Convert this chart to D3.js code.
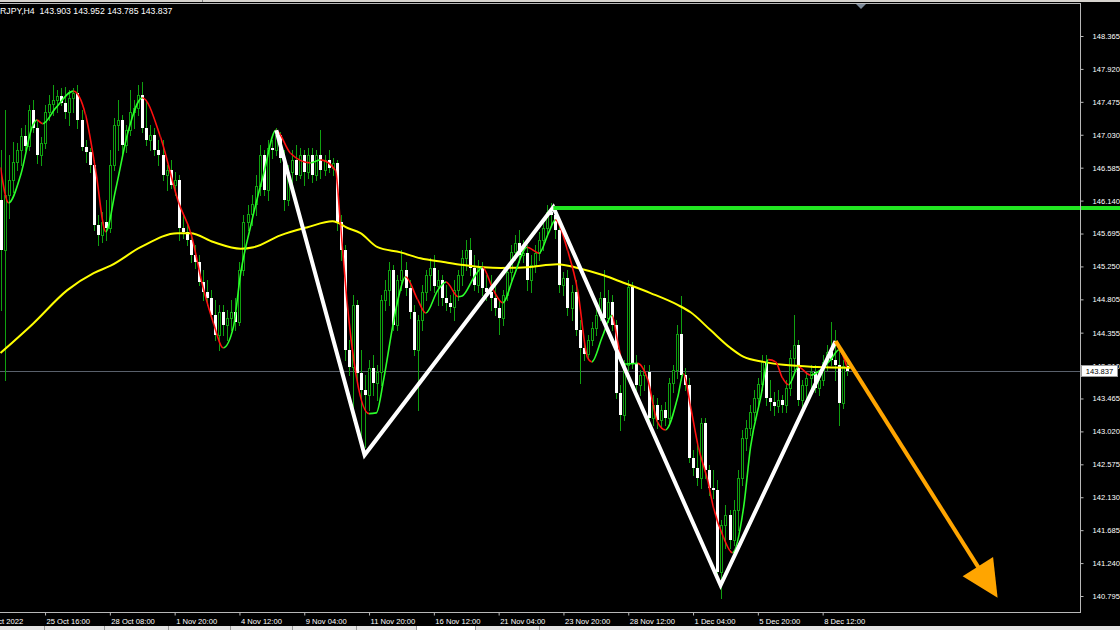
<!DOCTYPE html>
<html><head><meta charset="utf-8">
<script src="https://cdn.jsdelivr.net/npm/d3@7"></script>
<style>html,body{margin:0;padding:0;background:#000;overflow:hidden}svg{display:block}</style>
</head><body><svg id="c" width="1120" height="630"></svg>
<script>
// ---------- data ----------
const title = "EURJPY,H4  143.903 143.952 143.785 143.837";
const opens = [146.15,145.47,146.22,146.42,146.66,146.82,147.01,146.88,147.36,147.12,
146.76,146.92,147.34,147.45,147.50,147.55,147.46,147.34,147.53,147.59,
147.23,146.86,146.80,146.62,145.81,145.67,145.85,145.77,146.62,147.16,
147.23,146.89,147.09,147.34,147.39,147.57,147.12,146.96,147.03,146.82,
146.76,146.49,146.55,146.35,146.42,145.77,145.72,145.61,145.41,145.31,
145.04,144.91,144.82,144.59,144.32,144.63,144.46,144.55,144.63,144.50,
145.20,145.85,145.96,146.09,146.34,146.76,146.28,146.85,146.82,147.03,
146.72,146.15,146.53,146.69,146.49,146.76,146.53,146.76,146.49,146.76,
146.55,146.69,146.58,146.65,145.85,145.47,144.12,143.89,144.73,143.81,
143.58,143.51,143.88,143.68,143.82,144.80,144.93,145.20,144.46,145.07,
145.20,144.96,144.63,144.12,144.53,144.91,145.13,145.23,144.99,145.07,
144.82,144.76,144.70,144.93,145.13,145.36,145.47,145.23,145.00,145.23,
144.96,144.91,144.82,144.69,144.55,144.86,145.18,145.45,145.57,145.41,
145.43,145.07,145.27,145.43,145.61,145.77,145.99,145.94,145.74,145.00,
145.09,144.69,144.91,144.39,144.15,144.07,144.26,144.42,144.59,144.82,
144.55,144.77,144.46,143.54,143.24,143.92,144.97,143.94,143.65,143.78,
143.82,143.20,143.38,143.18,143.31,143.20,143.68,143.85,144.34,143.78,
143.65,142.66,142.53,142.39,143.14,142.50,142.26,142.23,141.12,141.76,
141.89,141.55,141.96,142.39,142.93,143.07,143.28,143.47,143.66,143.96,
143.47,143.42,143.36,143.45,143.38,143.61,144.01,144.19,143.45,143.65,
143.74,143.82,143.61,143.72,143.96,144.09,143.99,143.92,143.41,143.903];
const highs = [146.82,147.36,146.76,146.93,146.92,147.12,147.16,147.43,147.50,147.23,
147.00,147.43,147.57,147.70,147.63,147.66,147.68,147.63,147.66,147.70,
147.36,146.96,146.85,146.69,145.94,145.99,146.15,146.82,147.26,147.50,
147.30,147.16,147.63,147.50,147.70,147.74,147.50,147.16,147.12,146.96,
146.96,146.62,146.69,146.53,146.49,145.94,145.81,145.72,145.54,145.41,
145.20,145.07,144.93,144.80,144.73,144.73,144.66,144.80,144.82,145.31,
145.94,146.08,146.22,146.49,146.89,146.82,146.96,146.96,147.12,147.07,
146.82,146.62,146.82,146.89,146.85,146.82,146.85,146.85,146.82,147.09,
146.76,146.82,146.72,146.69,145.94,145.54,144.26,144.86,144.80,144.12,
143.78,143.99,144.05,143.92,144.86,145.07,145.31,145.27,145.13,145.47,
145.31,145.07,144.73,144.59,145.00,145.20,145.36,145.41,145.20,145.13,
145.00,144.86,145.07,145.20,145.47,145.61,145.63,145.41,145.34,145.31,
145.13,145.13,145.00,144.80,144.93,145.23,145.54,145.67,145.74,145.61,
145.54,145.41,145.54,145.72,145.85,146.08,146.11,146.01,145.81,145.18,
145.20,145.00,145.07,144.53,144.26,144.32,144.50,144.73,144.91,145.20,
144.93,144.86,144.53,143.65,143.99,145.07,145.04,144.05,143.85,143.92,
143.92,143.51,143.47,143.38,143.42,143.74,143.92,144.46,144.85,143.88,
143.74,142.77,142.84,143.20,143.20,142.57,142.50,142.36,141.82,142.03,
141.96,142.09,142.50,143.04,143.18,143.38,143.58,143.74,144.05,144.05,
143.72,143.55,143.58,143.51,143.72,144.12,144.59,144.26,143.72,143.82,
143.92,143.92,143.78,144.05,144.19,144.50,144.39,144.12,143.99,143.952];
const lows = [144.66,143.72,145.91,146.26,146.55,146.62,146.82,146.82,147.07,146.65,
146.62,146.85,147.23,147.30,147.34,147.43,147.26,147.16,147.34,147.12,
146.82,146.66,146.53,145.74,145.54,145.58,145.61,145.72,146.55,146.82,
146.76,146.80,147.03,147.12,147.30,147.07,146.89,146.82,146.76,146.62,
146.42,146.28,146.31,146.22,145.61,145.63,145.54,145.31,145.23,145.00,
144.80,144.73,144.55,144.26,144.12,144.32,144.26,144.39,144.39,144.46,
145.13,145.74,145.81,145.94,146.22,146.22,146.15,146.72,146.76,146.66,
146.01,146.08,146.35,146.42,146.45,146.35,146.45,146.39,146.42,146.45,
146.49,146.53,146.49,145.74,145.34,143.99,143.78,143.18,143.72,142.86,
142.81,143.31,143.51,143.45,143.65,144.66,144.73,144.39,144.39,144.93,
144.86,144.55,144.05,143.31,144.39,144.80,144.93,144.91,144.73,144.73,
144.66,144.63,144.53,144.80,145.00,145.20,145.13,144.93,144.91,144.86,
144.80,144.66,144.59,144.34,144.46,144.80,145.07,145.34,145.31,145.31,
144.93,144.91,145.18,145.34,145.47,145.67,145.81,145.63,144.91,144.86,
144.59,144.53,144.32,143.68,143.99,144.01,144.19,144.32,144.53,144.46,
144.50,144.39,143.47,143.04,143.18,143.85,143.88,143.58,143.51,143.58,
143.15,143.11,143.07,143.07,143.11,143.15,143.55,143.74,143.72,143.58,
142.61,142.43,142.30,142.26,142.39,142.16,142.12,141.04,140.77,141.45,
141.45,141.49,141.69,142.30,142.77,142.97,143.18,143.38,143.58,143.38,
143.31,143.24,143.28,143.28,143.28,143.51,143.82,143.38,143.28,143.45,
143.51,143.55,143.51,143.65,143.85,143.92,143.72,143.11,143.34,143.785];
const closes = [145.47,146.22,146.42,146.66,146.82,147.01,146.88,147.36,147.12,146.76,
146.92,147.34,147.45,147.50,147.55,147.46,147.34,147.53,147.59,147.23,
146.86,146.80,146.62,145.81,145.67,145.85,145.77,146.62,147.16,147.23,
146.89,147.09,147.34,147.39,147.57,147.12,146.96,147.03,146.82,146.76,
146.49,146.55,146.35,146.42,145.77,145.72,145.61,145.41,145.31,145.04,
144.91,144.82,144.59,144.32,144.63,144.46,144.55,144.63,144.50,145.20,
145.85,145.96,146.09,146.34,146.76,146.28,146.85,146.82,147.03,146.72,
146.15,146.53,146.69,146.49,146.76,146.53,146.76,146.49,146.76,146.55,
146.69,146.58,146.65,145.85,145.47,144.12,143.89,144.73,143.81,143.58,
143.51,143.88,143.68,143.82,144.80,144.93,145.20,144.46,145.07,145.20,
144.96,144.63,144.12,144.53,144.91,145.13,145.23,144.99,145.07,144.82,
144.76,144.70,144.93,145.13,145.36,145.47,145.23,145.00,145.23,144.96,
144.91,144.82,144.69,144.55,144.86,145.18,145.45,145.57,145.41,145.43,
145.07,145.27,145.43,145.61,145.77,145.99,145.94,145.74,145.00,145.09,
144.69,144.91,144.39,144.15,144.07,144.26,144.42,144.59,144.82,144.55,
144.77,144.46,143.54,143.24,143.92,144.97,143.94,143.65,143.78,143.82,
143.20,143.38,143.18,143.31,143.20,143.68,143.85,144.34,143.78,143.65,
142.66,142.53,142.39,143.14,142.50,142.26,142.23,141.12,141.76,141.89,
141.55,141.96,142.39,142.93,143.07,143.28,143.47,143.66,143.96,143.47,
143.42,143.36,143.45,143.38,143.61,144.01,144.19,143.45,143.65,143.74,
143.82,143.61,143.72,143.96,144.09,143.99,143.92,143.41,143.90,143.837];

// fast (red/green) moving average, read at key bars
const fastIdx = [0,2,5,8,9,10.4,13.6,18,21,23.5,26,28.4,31.6,35,39.5,44,47,50,52.6,55,
57.5,59.3,61.7,65,68,71.6,76.5,79,82.7,84,85.7,88,91,92.8,94.6,96.8,98.3,100,103,105,
108,110,113,114,117,119,121.7,124,126.7,130,133,135.3,137,140,142.5,145,146,148.6,151,152.3,
153.8,157.3,159.8,162.2,164.2,167.2,168.6,170.4,172.3,174.6,176,178.5,180.7,183.5,185.2,187.7,189.6,191.4,193,194.6,
197,200,202.5,205,207,209];
const fastVal = [146.59,146.11,146.49,147.16,147.23,147.18,147.39,147.62,147.30,146.55,145.72,146.28,147.09,147.53,147.00,146.11,145.70,144.97,144.48,144.15,
144.43,145.16,145.78,146.51,147.09,146.78,146.65,146.69,146.55,145.78,144.70,143.72,143.26,143.27,143.72,144.43,144.84,145.11,144.80,144.62,
144.93,145.04,144.84,144.85,145.11,145.24,144.93,144.76,145.11,145.51,145.43,145.70,145.88,145.47,144.93,144.01,143.96,144.30,144.59,144.26,
143.93,143.94,143.72,143.15,143.04,143.48,143.80,143.35,142.81,142.36,142.00,141.59,141.38,142.00,142.81,143.48,143.99,143.96,143.75,143.65,
143.89,143.78,143.85,143.99,144.12,143.89];
// slow (yellow) moving average
const slowIdx = [0,8.1,16.5,23,27.2,34.6,43.7,46.9,52.6,59.3,62.5,69.1,75.8,82,85.7,88.9,93.1,98.8,103.7,109.4,
114.3,119.3,123.5,130.1,137.5,142.5,148.9,153.8,160.5,167.2,170.4,175.3,180.2,183.4,188.4,193.3,201.7,209.9];
const slowVal = [144.08,144.48,144.93,145.16,145.26,145.51,145.70,145.70,145.58,145.49,145.51,145.67,145.78,145.86,145.77,145.70,145.51,145.44,145.36,145.31,
145.27,145.24,145.23,145.24,145.28,145.23,145.13,145.03,144.89,144.73,144.63,144.39,144.15,144.03,143.96,143.92,143.89,143.88];

const priceTicks = [148.365,147.920,147.475,147.030,146.585,146.140,145.695,145.250,144.805,144.355,143.910,143.465,143.020,142.575,142.130,141.685,141.240,140.795];
const timeIdx = [-5,11,27,43,59,75,91,107,123,139,155,171,187,203];
const timeLabels = ["21 Oct 2022","25 Oct 16:00","28 Oct 08:00","1 Nov 20:00","4 Nov 12:00","9 Nov 04:00","11 Nov 20:00","16 Nov 12:00","21 Nov 04:00","23 Nov 20:00","28 Nov 12:00","1 Dec 04:00","5 Dec 20:00","8 Dec 12:00"];

// drawn objects
const zigIdx = [68.1,89.9,136.5,177.8,206.2];
const zigVal = [147.09,142.70,146.05,140.94,144.24];
const arrowIdx = [206.2,246.2];
const arrowVal = [144.24,140.77];
const levelIdx = [136.5];
const levelVal = [146.04];
const lastPrice = [143.837];

// ---------- drawing ----------
const svg = d3.select("#c");
const W = 1120, H = 630, PR = 1080, PT = 3, PB = 612;
const FONT = "'Liberation Sans', Arial, sans-serif";
const x = d3.scaleLinear().domain([0, 200]).range([0.5, 810.5]);
const y = d3.scaleLinear().domain([140.795, 148.365]).range([596, 36]);

svg.append("rect").attr("width", W).attr("height", H).attr("fill", "#000");
const defs = svg.append("defs");
defs.append("clipPath").attr("id", "plot").append("rect")
  .attr("x", 0).attr("y", PT).attr("width", PR).attr("height", PB - PT);

// window strips
svg.append("rect").attr("x", 0).attr("y", 0).attr("width", W).attr("height", 2).attr("fill", "#d6d3ce");
svg.append("line").attr("x1", 202.5).attr("x2", 202.5).attr("y1", 0).attr("y2", 2).attr("stroke", "#808080");
svg.append("rect").attr("x", 0).attr("y", 626).attr("width", W).attr("height", 4).attr("fill", "#e4e4e4");
svg.append("rect").attr("x", 416).attr("y", 626).attr("width", 59).attr("height", 4).attr("fill", "#ffffff");
[44, 104, 168, 230, 292, 356, 416, 475, 539].forEach(v =>
  svg.append("line").attr("x1", v + 0.5).attr("x2", v + 0.5).attr("y1", 626).attr("y2", 630).attr("stroke", "#9a9a9a"));

const plot = svg.append("g").attr("clip-path", "url(#plot)");

// bid line
plot.append("line").attr("x1", 0).attr("x2", PR)
  .attr("y1", Math.round(y(lastPrice[0])) + 0.5).attr("y2", Math.round(y(lastPrice[0])) + 0.5)
  .attr("stroke", "#59606b").attr("stroke-width", 1);

// candles
const WICK = "#10a010";
const cg = plot.append("g");
closes.forEach((c, i) => {
  const o = opens[i], h = highs[i], l = lows[i];
  const cx = Math.round(x(i));
  cg.append("line").attr("x1", cx + 0.5).attr("x2", cx + 0.5)
    .attr("y1", Math.round(y(h))).attr("y2", Math.round(y(l)) + 1)
    .attr("stroke", WICK).attr("stroke-width", 1);
  const top = Math.round(y(Math.max(o, c))), bot = Math.round(y(Math.min(o, c)));
  if (c >= o) {
    cg.append("rect").attr("x", cx - 0.5).attr("y", top + 0.5)
      .attr("width", 2).attr("height", Math.max(bot - top, 0.01))
      .attr("fill", "#000").attr("stroke", WICK).attr("stroke-width", 1);
  } else {
    cg.append("rect").attr("x", cx - 1).attr("y", top)
      .attr("width", 3).attr("height", Math.max(bot - top, 1))
      .attr("fill", "#ffffff");
  }
});

// slow MA (yellow)
const slowPts = slowIdx.map((d, i) => [d, slowVal[i]]);
plot.append("path").attr("d", d3.line().x(d => x(d[0])).y(d => y(d[1])).curve(d3.curveMonotoneX)(slowPts))
  .attr("fill", "none").attr("stroke", "#ffff00").attr("stroke-width", 2);

// fast MA coloured by direction
const fastPts = fastIdx.map((d, i) => [d, fastVal[i]]);
const upClip = defs.append("clipPath").attr("id", "up");
const dnClip = defs.append("clipPath").attr("id", "dn");
for (let k = 0; k < fastPts.length - 1; k++) {
  const a = x(fastPts[k][0]), b = x(fastPts[k + 1][0]);
  (fastPts[k + 1][1] >= fastPts[k][1] ? upClip : dnClip).append("rect")
    .attr("x", a).attr("y", 0).attr("width", b - a + 0.01).attr("height", H);
}
const fastD = d3.line().x(d => x(d[0])).y(d => y(d[1])).curve(d3.curveMonotoneX)(fastPts);
plot.append("g").attr("clip-path", "url(#up)").append("path").attr("d", fastD)
  .attr("fill", "none").attr("stroke", "#2bff2b").attr("stroke-width", 1.6);
plot.append("g").attr("clip-path", "url(#dn)").append("path").attr("d", fastD)
  .attr("fill", "none").attr("stroke", "#ff1010").attr("stroke-width", 1.6);

// zigzag (white)
const zigPts = zigIdx.map((d, i) => [d, zigVal[i]]);
svg.append("path").attr("d", d3.line().x(d => x(d[0])).y(d => y(d[1]))(zigPts))
  .attr("fill", "none").attr("stroke", "#ffffff").attr("stroke-width", 4).attr("stroke-linejoin", "miter");

// level line (green)
svg.append("line").attr("x1", x(levelIdx[0])).attr("x2", W)
  .attr("y1", y(levelVal[0])).attr("y2", y(levelVal[0]))
  .attr("stroke", "#22e622").attr("stroke-width", 4);

// orange arrow
const ax0 = x(arrowIdx[0]), ay0 = y(arrowVal[0]), ax1 = x(arrowIdx[1]), ay1 = y(arrowVal[1]);
const len = Math.hypot(ax1 - ax0, ay1 - ay0), ux = (ax1 - ax0) / len, uy = (ay1 - ay0) / len;
const headL = 37, headW = 18;
const bx = ax1 - ux * headL, by = ay1 - uy * headL;
svg.append("line").attr("x1", ax0).attr("y1", ay0).attr("x2", bx + ux * 4).attr("y2", by + uy * 4)
  .attr("stroke", "#ffa500").attr("stroke-width", 4);
svg.append("path").attr("d", `M${ax1},${ay1}L${bx - uy * headW},${by + ux * headW}L${bx + uy * headW},${by - ux * headW}Z`)
  .attr("fill", "#ffa500");

// frame
svg.append("line").attr("x1", 0).attr("x2", PR + 0.5).attr("y1", PT + 0.5).attr("y2", PT + 0.5).attr("stroke", "#b8b8b8");
svg.append("line").attr("x1", 0).attr("x2", PR + 0.5).attr("y1", PB + 0.5).attr("y2", PB + 0.5).attr("stroke", "#b8b8b8");
svg.append("line").attr("x1", PR + 0.5).attr("x2", PR + 0.5).attr("y1", PT).attr("y2", PB + 1).attr("stroke", "#b8b8b8");

// shift marker
svg.append("path").attr("d", `M856,4L866,4L861,9Z`).attr("fill", "#7d8a99");

// price axis
const yAxis = d3.axisRight(y).tickValues(priceTicks).tickFormat(d3.format(".3f")).tickSize(3).tickPadding(9);
const ya = svg.append("g").attr("transform", `translate(${PR + 0.5},0)`).call(yAxis);
ya.select(".domain").remove();
ya.selectAll("line").attr("stroke", "#b8b8b8");
ya.selectAll("text").attr("fill", "#ffffff").style("font-family", FONT).style("font-size", "7.6px");

// last price box
const ly = y(lastPrice[0]);
svg.append("rect").attr("x", PR + 1.5).attr("y", Math.round(ly) - 5.5).attr("width", 36).attr("height", 11)
  .attr("fill", "#ffffff").attr("stroke", "#9a9a9a").attr("stroke-width", 1);
svg.append("text").attr("x", PR + 19.5).attr("y", ly + 3).attr("text-anchor", "middle")
  .attr("fill", "#000").style("font-family", FONT).style("font-size", "7.6px").text(d3.format(".3f")(lastPrice[0]));

// time axis
const xAxis = d3.axisBottom(x).tickValues(timeIdx).tickFormat((d, i) => timeLabels[i]).tickSize(3).tickPadding(3);
const xa = svg.append("g").attr("transform", `translate(0,${PB + 0.5})`).call(xAxis);
xa.select(".domain").remove();
xa.selectAll("line").attr("stroke", "#b8b8b8");
xa.selectAll("text").attr("fill", "#ffffff").attr("text-anchor", "start").attr("dx", 1)
  .style("font-family", FONT).style("font-size", "7.6px");

// title
svg.append("text").attr("x", -12).attr("y", 13.5).attr("fill", "#ffffff")
  .style("font-family", FONT).style("font-size", "8.7px").style("white-space", "pre").text(title);
</script>
</body></html>
